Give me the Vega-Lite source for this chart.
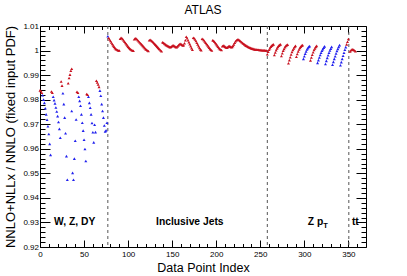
{
 "$schema": "https://vega.github.io/schema/vega-lite/v6.json",
 "width": 326, "height": 221,
 "autosize": "none",
 "padding": {"left": 40, "top": 26, "right": 41, "bottom": 29},
 "background": "white",
 "title": {"text": "ATLAS", "fontSize": 12, "font": "Liberation Sans", "fontWeight": "normal", "color": "black", "offset": 5.5, "anchor": "middle", "frame": "group"},
 "config": {
  "view": {"stroke": "black", "strokeWidth": 1},
  "axis": {"domain": false, "grid": false, "tickColor": "black", "tickWidth": 1, "labelFont": "Liberation Sans", "titleFont": "Liberation Sans", "labelColor": "black", "titleColor": "black", "titleFontWeight": "normal"}
 },
 "datasets": {
  "pts": [
   {"i":3,"v":0.9818,"s":"blue"},{"i":4,"v":0.98,"s":"blue"},{"i":5,"v":0.9787,"s":"blue"},{"i":6,"v":0.9765,"s":"blue"},{"i":7,"v":0.974,"s":"blue"},{"i":8,"v":0.9718,"s":"blue"},{"i":9,"v":0.9692,"s":"blue"},{"i":10,"v":0.966,"s":"blue"},{"i":11,"v":0.962,"s":"blue"},{"i":12,"v":0.9575,"s":"blue"},
   {"i":15,"v":0.9812,"s":"blue"},{"i":16,"v":0.9798,"s":"blue"},{"i":17,"v":0.9785,"s":"blue"},{"i":18,"v":0.9768,"s":"blue"},{"i":19,"v":0.9752,"s":"blue"},{"i":20,"v":0.9733,"s":"blue"},{"i":21,"v":0.9709,"s":"blue"},{"i":22,"v":0.9681,"s":"blue"},{"i":23,"v":0.9645,"s":"blue"},
   {"i":26,"v":0.9826,"s":"blue"},{"i":27,"v":0.9782,"s":"blue"},{"i":28,"v":0.9727,"s":"blue"},{"i":29,"v":0.9663,"s":"blue"},{"i":30,"v":0.957,"s":"blue"},{"i":31,"v":0.9474,"s":"blue"},
   {"i":36,"v":0.9754,"s":"blue"},{"i":37,"v":0.9502,"s":"blue"},{"i":38,"v":0.9474,"s":"blue"},{"i":39,"v":0.956,"s":"blue"},{"i":40,"v":0.9633,"s":"blue"},{"i":41,"v":0.9719,"s":"blue"},
   {"i":44,"v":0.9812,"s":"blue"},{"i":45,"v":0.9795,"s":"blue"},{"i":46,"v":0.9775,"s":"blue"},{"i":47,"v":0.974,"s":"blue"},{"i":48,"v":0.9706,"s":"blue"},{"i":49,"v":0.9674,"s":"blue"},{"i":50,"v":0.9637,"s":"blue"},{"i":51,"v":0.9599,"s":"blue"},{"i":52,"v":0.955,"s":"blue"},
   {"i":55,"v":0.9812,"s":"blue"},{"i":56,"v":0.9787,"s":"blue"},{"i":57,"v":0.9767,"s":"blue"},{"i":58,"v":0.974,"s":"blue"},{"i":59,"v":0.9705,"s":"blue"},{"i":60,"v":0.9667,"s":"blue"},{"i":61,"v":0.9626,"s":"blue"},{"i":62,"v":0.9698,"s":"blue"},{"i":63,"v":0.9668,"s":"blue"},
   {"i":68,"v":0.9837,"s":"blue"},{"i":69,"v":0.9816,"s":"blue"},{"i":70,"v":0.9782,"s":"blue"},{"i":71,"v":0.9754,"s":"blue"},{"i":72,"v":0.9727,"s":"blue"},{"i":73,"v":0.9695,"s":"blue"},{"i":74,"v":0.9671,"s":"blue"},{"i":75,"v":0.9675,"s":"blue"},{"i":76,"v":0.9706,"s":"blue"},
   {"i":77,"v":1.0058,"s":"blue"},
   {"i":299,"v":0.9966,"s":"blue"},{"i":300,"v":0.9977,"s":"blue"},{"i":301,"v":0.9987,"s":"blue"},{"i":302,"v":0.9996,"s":"blue"},{"i":303,"v":1.0004,"s":"blue"},{"i":304,"v":1.001,"s":"blue"},{"i":305,"v":1.0015,"s":"blue"},{"i":306,"v":1.0018,"s":"blue"},
   {"i":315,"v":0.995,"s":"blue"},{"i":316,"v":0.9961,"s":"blue"},{"i":317,"v":0.9972,"s":"blue"},{"i":318,"v":0.9982,"s":"blue"},{"i":319,"v":0.9991,"s":"blue"},{"i":320,"v":0.9999,"s":"blue"},{"i":321,"v":1.0006,"s":"blue"},{"i":322,"v":1.0012,"s":"blue"},{"i":323,"v":1.0017,"s":"blue"},
   {"i":324,"v":0.9945,"s":"blue"},{"i":325,"v":0.9958,"s":"blue"},{"i":326,"v":0.997,"s":"blue"},{"i":327,"v":0.9981,"s":"blue"},{"i":328,"v":0.9991,"s":"blue"},{"i":329,"v":1.0,"s":"blue"},{"i":330,"v":1.0008,"s":"blue"},{"i":331,"v":1.0015,"s":"blue"},
   {"i":332,"v":0.9942,"s":"blue"},{"i":333,"v":0.9954,"s":"blue"},{"i":334,"v":0.9966,"s":"blue"},{"i":335,"v":0.9977,"s":"blue"},{"i":336,"v":0.9988,"s":"blue"},{"i":337,"v":0.9998,"s":"blue"},{"i":338,"v":1.0007,"s":"blue"},{"i":339,"v":1.0015,"s":"blue"},{"i":340,"v":1.0022,"s":"blue"},
   {"i":341,"v":0.994,"s":"blue"},{"i":342,"v":0.9953,"s":"blue"},{"i":343,"v":0.9966,"s":"blue"},{"i":344,"v":0.9979,"s":"blue"},{"i":345,"v":0.9991,"s":"blue"},{"i":346,"v":1.0003,"s":"blue"},{"i":347,"v":1.0014,"s":"blue"},

   {"i":0,"v":0.9838,"s":"red"},{"i":1,"v":0.9836,"s":"red"},{"i":2,"v":0.9828,"s":"red"},{"i":13,"v":0.9833,"s":"red"},{"i":14,"v":0.9828,"s":"red"},{"i":24,"v":0.9874,"s":"red"},{"i":25,"v":0.9857,"s":"red"},
   {"i":32,"v":0.9867,"s":"red"},{"i":33,"v":0.9888,"s":"red"},{"i":34,"v":0.9902,"s":"red"},{"i":35,"v":0.9918,"s":"red"},{"i":36,"v":0.9926,"s":"red"},
   {"i":42,"v":0.9832,"s":"red"},{"i":43,"v":0.9828,"s":"red"},{"i":53,"v":0.9823,"s":"red"},{"i":54,"v":0.982,"s":"red"},
   {"i":64,"v":0.9877,"s":"red"},{"i":65,"v":0.987,"s":"red"},{"i":66,"v":0.9862,"s":"red"},{"i":67,"v":0.9852,"s":"red"},

   {"i":78,"v":1.0051,"s":"red"},{"i":79,"v":1.0045,"s":"red"},{"i":80,"v":1.0039,"s":"red"},{"i":81,"v":1.0033,"s":"red"},{"i":82,"v":1.0027,"s":"red"},{"i":83,"v":1.0021,"s":"red"},{"i":84,"v":1.0016,"s":"red"},{"i":85,"v":1.0011,"s":"red"},{"i":86,"v":1.0007,"s":"red"},{"i":87,"v":1.0004,"s":"red"},{"i":88,"v":1.0002,"s":"red"},{"i":89,"v":1.0,"s":"red"},{"i":90,"v":1.0,"s":"red"},
   {"i":91,"v":1.0048,"s":"red"},{"i":92,"v":1.0052,"s":"red"},{"i":93,"v":1.005,"s":"red"},{"i":94,"v":1.0046,"s":"red"},{"i":95,"v":1.0041,"s":"red"},{"i":96,"v":1.0036,"s":"red"},{"i":97,"v":1.0031,"s":"red"},{"i":98,"v":1.0026,"s":"red"},{"i":99,"v":1.0021,"s":"red"},{"i":100,"v":1.0016,"s":"red"},{"i":101,"v":1.0012,"s":"red"},{"i":102,"v":1.0008,"s":"red"},{"i":103,"v":1.0005,"s":"red"},{"i":104,"v":1.0002,"s":"red"},{"i":105,"v":1.0,"s":"red"},{"i":106,"v":0.9999,"s":"red"},
   {"i":107,"v":1.0046,"s":"red"},{"i":108,"v":1.005,"s":"red"},{"i":109,"v":1.0049,"s":"red"},{"i":110,"v":1.0046,"s":"red"},{"i":111,"v":1.0042,"s":"red"},{"i":112,"v":1.0038,"s":"red"},{"i":113,"v":1.0034,"s":"red"},{"i":114,"v":1.003,"s":"red"},{"i":115,"v":1.0026,"s":"red"},{"i":116,"v":1.0022,"s":"red"},{"i":117,"v":1.0018,"s":"red"},{"i":118,"v":1.0014,"s":"red"},{"i":119,"v":1.001,"s":"red"},{"i":120,"v":1.0006,"s":"red"},{"i":121,"v":1.0003,"s":"red"},{"i":122,"v":1.0,"s":"red"},{"i":123,"v":0.9998,"s":"red"},
   {"i":124,"v":1.0042,"s":"red"},{"i":125,"v":1.0044,"s":"red"},{"i":126,"v":1.0042,"s":"red"},{"i":127,"v":1.0039,"s":"red"},{"i":128,"v":1.0036,"s":"red"},{"i":129,"v":1.0032,"s":"red"},{"i":130,"v":1.0028,"s":"red"},{"i":131,"v":1.0024,"s":"red"},{"i":132,"v":1.002,"s":"red"},{"i":133,"v":1.0016,"s":"red"},{"i":134,"v":1.0012,"s":"red"},{"i":135,"v":1.0008,"s":"red"},{"i":136,"v":1.0004,"s":"red"},{"i":137,"v":1.0,"s":"red"},{"i":138,"v":0.9997,"s":"red"},
   {"i":139,"v":1.0034,"s":"red"},{"i":140,"v":1.0032,"s":"red"},{"i":141,"v":1.0029,"s":"red"},{"i":142,"v":1.0026,"s":"red"},{"i":143,"v":1.0023,"s":"red"},{"i":144,"v":1.0021,"s":"red"},{"i":145,"v":1.0019,"s":"red"},{"i":146,"v":1.0017,"s":"red"},{"i":147,"v":1.0015,"s":"red"},{"i":148,"v":1.0014,"s":"red"},
   {"i":149,"v":1.0016,"s":"red"},{"i":150,"v":1.0019,"s":"red"},{"i":151,"v":1.0021,"s":"red"},{"i":152,"v":1.002,"s":"red"},{"i":153,"v":1.0017,"s":"red"},{"i":154,"v":1.0015,"s":"red"},{"i":155,"v":1.0014,"s":"red"},{"i":156,"v":1.0017,"s":"red"},{"i":157,"v":1.0021,"s":"red"},{"i":158,"v":1.0025,"s":"red"},
   {"i":159,"v":1.0028,"s":"red"},{"i":160,"v":1.0027,"s":"red"},{"i":161,"v":1.0024,"s":"red"},{"i":162,"v":1.0021,"s":"red"},{"i":163,"v":1.0022,"s":"red"},{"i":164,"v":1.003,"s":"red"},{"i":165,"v":1.0042,"s":"red"},
   {"i":166,"v":1.0056,"s":"red"},{"i":167,"v":1.005,"s":"red"},{"i":168,"v":1.0042,"s":"red"},{"i":169,"v":1.0034,"s":"red"},{"i":170,"v":1.0026,"s":"red"},{"i":171,"v":1.0018,"s":"red"},{"i":172,"v":1.001,"s":"red"},{"i":173,"v":1.0003,"s":"red"},
   {"i":174,"v":1.0052,"s":"red"},{"i":175,"v":1.005,"s":"red"},{"i":176,"v":1.0045,"s":"red"},{"i":177,"v":1.0039,"s":"red"},{"i":178,"v":1.0032,"s":"red"},{"i":179,"v":1.0025,"s":"red"},{"i":180,"v":1.0018,"s":"red"},{"i":181,"v":1.0011,"s":"red"},{"i":182,"v":1.0005,"s":"red"},{"i":183,"v":1.0001,"s":"red"},
   {"i":184,"v":1.0048,"s":"red"},{"i":185,"v":1.0046,"s":"red"},{"i":186,"v":1.0042,"s":"red"},{"i":187,"v":1.0037,"s":"red"},{"i":188,"v":1.0032,"s":"red"},{"i":189,"v":1.0027,"s":"red"},{"i":190,"v":1.0022,"s":"red"},{"i":191,"v":1.0017,"s":"red"},{"i":192,"v":1.0012,"s":"red"},{"i":193,"v":1.0007,"s":"red"},{"i":194,"v":1.0003,"s":"red"},{"i":195,"v":1.0,"s":"red"},
   {"i":196,"v":1.0042,"s":"red"},{"i":197,"v":1.004,"s":"red"},{"i":198,"v":1.0036,"s":"red"},{"i":199,"v":1.0031,"s":"red"},{"i":200,"v":1.0026,"s":"red"},{"i":201,"v":1.0021,"s":"red"},{"i":202,"v":1.0016,"s":"red"},{"i":203,"v":1.0011,"s":"red"},{"i":204,"v":1.0007,"s":"red"},{"i":205,"v":1.0004,"s":"red"},{"i":206,"v":1.0002,"s":"red"},
   {"i":207,"v":1.0018,"s":"red"},{"i":208,"v":1.002,"s":"red"},{"i":209,"v":1.0019,"s":"red"},{"i":210,"v":1.0016,"s":"red"},{"i":211,"v":1.0013,"s":"red"},{"i":212,"v":1.0012,"s":"red"},{"i":213,"v":1.0014,"s":"red"},{"i":214,"v":1.0017,"s":"red"},{"i":215,"v":1.0018,"s":"red"},{"i":216,"v":1.0016,"s":"red"},{"i":217,"v":1.0014,"s":"red"},{"i":218,"v":1.0015,"s":"red"},{"i":219,"v":1.0019,"s":"red"},{"i":220,"v":1.0025,"s":"red"},{"i":221,"v":1.0032,"s":"red"},{"i":222,"v":1.0038,"s":"red"},
   {"i":223,"v":1.0042,"s":"red"},{"i":224,"v":1.0045,"s":"red"},{"i":225,"v":1.0045,"s":"red"},{"i":226,"v":1.0043,"s":"red"},{"i":227,"v":1.004,"s":"red"},{"i":228,"v":1.0037,"s":"red"},{"i":229,"v":1.0034,"s":"red"},{"i":230,"v":1.0031,"s":"red"},{"i":231,"v":1.0028,"s":"red"},{"i":232,"v":1.0025,"s":"red"},{"i":233,"v":1.0022,"s":"red"},{"i":234,"v":1.002,"s":"red"},{"i":235,"v":1.0018,"s":"red"},{"i":236,"v":1.0016,"s":"red"},{"i":237,"v":1.0014,"s":"red"},{"i":238,"v":1.0012,"s":"red"},{"i":239,"v":1.0011,"s":"red"},{"i":240,"v":1.0009,"s":"red"},
   {"i":241,"v":1.0008,"s":"red"},{"i":242,"v":1.0007,"s":"red"},{"i":243,"v":1.0006,"s":"red"},{"i":244,"v":1.0005,"s":"red"},{"i":245,"v":1.0004,"s":"red"},{"i":246,"v":1.0004,"s":"red"},{"i":247,"v":1.0003,"s":"red"},{"i":248,"v":1.0003,"s":"red"},{"i":249,"v":1.0002,"s":"red"},{"i":250,"v":1.0002,"s":"red"},{"i":251,"v":1.0002,"s":"red"},{"i":252,"v":1.0001,"s":"red"},{"i":253,"v":1.0001,"s":"red"},{"i":254,"v":1.0001,"s":"red"},{"i":255,"v":1.0001,"s":"red"},{"i":256,"v":1.0,"s":"red"},{"i":257,"v":1.0,"s":"red"},

   {"i":258,"v":0.9985,"s":"red"},{"i":259,"v":0.9995,"s":"red"},{"i":260,"v":1.0003,"s":"red"},{"i":261,"v":1.001,"s":"red"},{"i":262,"v":1.0016,"s":"red"},{"i":263,"v":1.002,"s":"red"},{"i":264,"v":1.0023,"s":"red"},{"i":265,"v":1.0025,"s":"red"},
   {"i":266,"v":0.9982,"s":"red"},{"i":267,"v":0.9992,"s":"red"},{"i":268,"v":1.0001,"s":"red"},{"i":269,"v":1.0009,"s":"red"},{"i":270,"v":1.0015,"s":"red"},{"i":271,"v":1.002,"s":"red"},{"i":272,"v":1.0023,"s":"red"},{"i":273,"v":1.0025,"s":"red"},
   {"i":274,"v":0.9978,"s":"red"},{"i":275,"v":0.9989,"s":"red"},{"i":276,"v":0.9999,"s":"red"},{"i":277,"v":1.0007,"s":"red"},{"i":278,"v":1.0014,"s":"red"},{"i":279,"v":1.0019,"s":"red"},{"i":280,"v":1.0022,"s":"red"},{"i":281,"v":1.0024,"s":"red"},
   {"i":282,"v":0.9948,"s":"red"},{"i":283,"v":0.9961,"s":"red"},{"i":284,"v":0.9973,"s":"red"},{"i":285,"v":0.9984,"s":"red"},{"i":286,"v":0.9994,"s":"red"},{"i":287,"v":1.0002,"s":"red"},{"i":288,"v":1.0009,"s":"red"},{"i":289,"v":1.0015,"s":"red"},{"i":290,"v":1.0019,"s":"red"},
   {"i":291,"v":0.9975,"s":"red"},{"i":292,"v":0.9986,"s":"red"},{"i":293,"v":0.9996,"s":"red"},{"i":294,"v":1.0004,"s":"red"},{"i":295,"v":1.0011,"s":"red"},{"i":296,"v":1.0016,"s":"red"},{"i":297,"v":1.002,"s":"red"},{"i":298,"v":1.0022,"s":"red"},
   {"i":307,"v":0.996,"s":"red"},{"i":308,"v":0.9972,"s":"red"},{"i":309,"v":0.9983,"s":"red"},{"i":310,"v":0.9993,"s":"red"},{"i":311,"v":1.0002,"s":"red"},{"i":312,"v":1.0009,"s":"red"},{"i":313,"v":1.0015,"s":"red"},{"i":314,"v":1.0019,"s":"red"},
   {"i":348,"v":1.0025,"s":"red"},{"i":349,"v":1.0036,"s":"red"},{"i":350,"v":1.0047,"s":"red"},
   {"i":352,"v":0.9996,"s":"red"},{"i":353,"v":1.0001,"s":"red"},{"i":354,"v":1.0004,"s":"red"},{"i":355,"v":1.0005,"s":"red"},{"i":356,"v":1.0003,"s":"red"},{"i":357,"v":1.0,"s":"red"},{"i":358,"v":0.9997,"s":"red"}
  ]
 },
 "layer": [
  {
   "data": {"values": [{"b": 77}, {"b": 258}, {"b": 350.5}]},
   "mark": {"type": "rule", "color": "#555555", "strokeDash": [3, 3], "strokeWidth": 1},
   "encoding": {"x": {"field": "b", "type": "quantitative", "scale": {"domain": [0, 370], "nice": false, "zero": false}, "axis": null}}
  },
  {
   "data": {"name": "pts"},
   "mark": {"type": "point", "shape": "triangle-up", "filled": true, "size": 9, "opacity": 1},
   "encoding": {
    "x": {"field": "i", "type": "quantitative", "scale": {"domain": [0, 370], "nice": false, "zero": false},
      "axis": {"orient": "bottom", "values": [0, 50, 100, 150, 200, 250, 300, 350], "tickSize": -7, "labelPadding": 10, "labelFontSize": 8, "labelFlush": false, "title": "Data Point Index", "titleFontSize": 12.5, "titlePadding": 3}},
    "y": {"field": "v", "type": "quantitative", "scale": {"domain": [0.92, 1.01], "nice": false, "zero": false},
      "axis": {"orient": "left", "values": [0.92, 0.93, 0.94, 0.95, 0.96, 0.97, 0.98, 0.99, 1, 1.01], "format": "~g", "tickSize": -10, "labelPadding": 11.5, "labelFontSize": 8, "labelFlush": false, "title": "NNLO+NLLx / NNLO (fixed input PDF)", "titleFontSize": 13, "titlePadding": 5.5}},
    "color": {"field": "s", "type": "nominal", "scale": {"domain": ["blue", "red"], "range": ["#2020ee", "#c8101e"]}, "legend": null}
   }
  },
  {
   "data": {"values": [{"i": 0, "v": 1}]},
   "mark": {"type": "point", "opacity": 0},
   "encoding": {
    "x": {"field": "i", "type": "quantitative", "scale": {"domain": [0, 370], "nice": false, "zero": false},
      "axis": {"orient": "bottom", "values": [10,20,30,40,60,70,80,90,110,120,130,140,160,170,180,190,210,220,230,240,260,270,280,290,310,320,330,340,360], "tickSize": -3.5, "labels": false, "title": null}},
    "y": {"field": "v", "type": "quantitative", "scale": {"domain": [0.92, 1.01], "nice": false, "zero": false},
      "axis": {"orient": "left", "values": [0.922,0.924,0.926,0.928,0.932,0.934,0.936,0.938,0.942,0.944,0.946,0.948,0.952,0.954,0.956,0.958,0.962,0.964,0.966,0.968,0.972,0.974,0.976,0.978,0.982,0.984,0.986,0.988,0.992,0.994,0.996,0.998,1.002,1.004,1.006,1.008], "tickSize": -5, "labels": false, "title": null}}
   }
  },
  {
   "data": {"values": [{"i": 0, "v": 1}]},
   "mark": {"type": "point", "opacity": 0},
   "encoding": {
    "x": {"field": "i", "type": "quantitative", "scale": {"domain": [0, 370], "nice": false, "zero": false},
      "axis": {"orient": "top", "values": [0, 50, 100, 150, 200, 250, 300, 350], "tickSize": -7, "labels": false, "title": null}},
    "y": {"field": "v", "type": "quantitative", "scale": {"domain": [0.92, 1.01], "nice": false, "zero": false},
      "axis": {"orient": "right", "values": [0.92, 0.93, 0.94, 0.95, 0.96, 0.97, 0.98, 0.99, 1, 1.01], "tickSize": -10, "labels": false, "title": null}}
   }
  },
  {
   "data": {"values": [{"i": 0, "v": 1}]},
   "mark": {"type": "point", "opacity": 0},
   "encoding": {
    "x": {"field": "i", "type": "quantitative", "scale": {"domain": [0, 370], "nice": false, "zero": false},
      "axis": {"orient": "top", "values": [10,20,30,40,60,70,80,90,110,120,130,140,160,170,180,190,210,220,230,240,260,270,280,290,310,320,330,340,360], "tickSize": -3.5, "labels": false, "title": null}},
    "y": {"field": "v", "type": "quantitative", "scale": {"domain": [0.92, 1.01], "nice": false, "zero": false},
      "axis": {"orient": "right", "values": [0.922,0.924,0.926,0.928,0.932,0.934,0.936,0.938,0.942,0.944,0.946,0.948,0.952,0.954,0.956,0.958,0.962,0.964,0.966,0.968,0.972,0.974,0.976,0.978,0.982,0.984,0.986,0.988,0.992,0.994,0.996,0.998,1.002,1.004,1.006,1.008], "tickSize": -5, "labels": false, "title": null}}
   }
  },
  {
   "data": {"values": [{}]},
   "mark": {"type": "text", "text": "W, Z, DY", "font": "Liberation Sans", "fontWeight": "bold", "fontSize": 10.3, "align": "left", "baseline": "middle", "color": "black"},
   "encoding": {"x": {"datum": 16, "type": "quantitative", "axis": null}, "y": {"datum": 0.93, "type": "quantitative", "axis": null}}
  },
  {
   "data": {"values": [{}]},
   "mark": {"type": "text", "text": "Inclusive Jets", "font": "Liberation Sans", "fontWeight": "bold", "fontSize": 10.3, "align": "center", "baseline": "middle", "color": "black"},
   "encoding": {"x": {"datum": 170, "type": "quantitative", "axis": null}, "y": {"datum": 0.93, "type": "quantitative", "axis": null}}
  },
  {
   "data": {"values": [{}]},
   "mark": {"type": "text", "text": "Z p", "font": "Liberation Sans", "fontWeight": "bold", "fontSize": 10.3, "align": "left", "baseline": "middle", "color": "black"},
   "encoding": {"x": {"datum": 304, "type": "quantitative", "axis": null}, "y": {"datum": 0.93, "type": "quantitative", "axis": null}}
  },
  {
   "data": {"values": [{}]},
   "mark": {"type": "text", "text": "T", "font": "Liberation Sans", "fontWeight": "bold", "fontSize": 7.5, "align": "left", "baseline": "middle", "color": "black"},
   "encoding": {"x": {"datum": 321.5, "type": "quantitative", "axis": null}, "y": {"datum": 0.9287, "type": "quantitative", "axis": null}}
  },
  {
   "data": {"values": [{}]},
   "mark": {"type": "text", "text": "tt", "font": "Liberation Sans", "fontWeight": "bold", "fontSize": 10.3, "align": "left", "baseline": "middle", "color": "black"},
   "encoding": {"x": {"datum": 354, "type": "quantitative", "axis": null}, "y": {"datum": 0.93, "type": "quantitative", "axis": null}}
  }
 ],
 "resolve": {"axis": {"x": "independent", "y": "independent"}}
}
